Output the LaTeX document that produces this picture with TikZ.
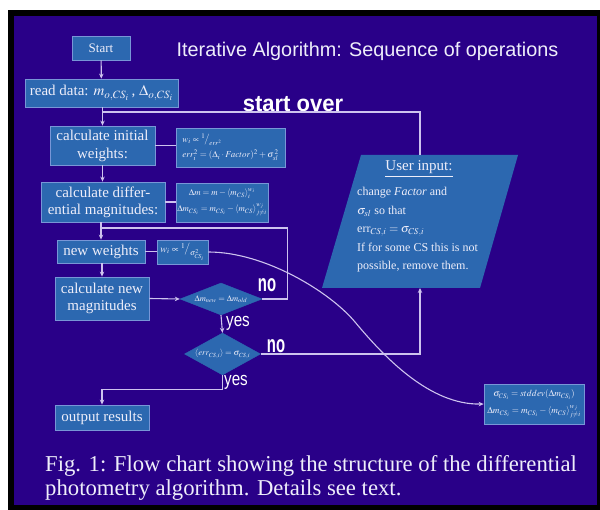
\documentclass[tikz,border=0pt]{standalone}
\usepackage{mathptmx}
\usepackage{fontspec}
\setmainfont{Liberation Serif}
\setsansfont{Liberation Sans}
\usetikzlibrary{shapes.geometric,arrows.meta}
\definecolor{bgblue}{RGB}{41,0,136}
\definecolor{boxfill}{RGB}{44,104,176}
\definecolor{boxline}{RGB}{120,150,215}
\definecolor{lineclr}{RGB}{205,195,238}
\definecolor{txt}{RGB}{238,238,250}
\begin{document}
\begin{tikzpicture}[x=1pt,y=-1pt,
  box/.style={draw=boxline, fill=boxfill, line width=0.8pt, text=txt, inner sep=1pt, align=center, font=\fontsize{15}{17}\selectfont},
  fbox/.style={box, font=\fontsize{9}{11}\selectfont},
  dia/.style={diamond, draw=boxfill, fill=boxfill, text=txt, inner sep=0pt, font=\fontsize{8.5}{10}\selectfont},
  conn/.style={draw=lineclr, line width=1.1pt},
  arr/.style={conn, -{Stealth[length=5pt,width=4.5pt]}},
  lbl/.style={text=white, font=\sffamily\fontsize{19}{20}\selectfont, inner sep=0pt},
  lblb/.style={text=white, font=\sffamily\bfseries\fontsize{22}{24}\selectfont, inner sep=0pt}
]
\useasboundingbox (0,0) rectangle (600,510);
\fill[white] (0,0) rectangle (600,510);
\fill[black] (8,10) rectangle (600,510);
\fill[bgblue] (14,16) rectangle (597,505);

% title
\node[text=txt, font=\sffamily\fontsize{19.8}{22}\selectfont, inner sep=0pt] (title) at (367.5,51) {Iterative Algorithm: Sequence of operations};

% boxes
\node[box, minimum width=58pt, minimum height=24pt, font=\fontsize{13}{15}\selectfont] (start) at (101,48) {Start};
\node[box, minimum width=153pt, minimum height=28pt] (read) at (101.5,93) {read data: $m_{o,CS_i}$\,, $\Delta_{o,CS_i}$};
\node[box, minimum width=105pt, minimum height=39pt, font=\fontsize{15}{18}\selectfont] (init) at (102.5,145.5) {calculate initial\\weights:};
\node[box, minimum width=124pt, minimum height=40pt, font=\fontsize{15}{17}\selectfont] (diff) at (103,202) {calculate differ-\\ential magnitudes:};
\node[box, minimum width=88pt, minimum height=23pt] (neww) at (101,251.5) {new weights};
\node[box, minimum width=94pt, minimum height=43pt, font=\fontsize{15}{16.5}\selectfont] (calcnew) at (102,298.5) {calculate new\\magnitudes};
\node[box, minimum width=94pt, minimum height=25pt] (out) at (102,417.5) {output results};

% formula boxes
\node[fbox, minimum width=109pt, minimum height=39pt, align=left, inner sep=2pt] (f1) at (230.5,147.5)
  {$w_i \propto {}^{1}\!\big/_{err^2}$\\[3pt] $err_i^2 = (\Delta_i \cdot Factor)^2 + \sigma_{sl}^{\,2}$};
\node[fbox, minimum width=92pt, minimum height=39pt, font=\fontsize{8.8}{11}\selectfont] (f2) at (222,202.5)
  {$\Delta m = m - \langle m_{CS}\rangle_i^{w_i}$\\[5pt] $\Delta m_{CS_i} = m_{CS_i} - \langle m_{CS}\rangle_{j\neq i}^{w_j}$};
\node[fbox, minimum width=51pt, minimum height=24pt, font=\fontsize{10}{11}\selectfont] (f3) at (182.5,252)
  {$w_i \propto {}^{1}\!\big/_{\sigma^2_{CS_i}}$};
\node[fbox, minimum width=100pt, minimum height=40pt, font=\fontsize{9.2}{11}\selectfont] (f4) at (534,404)
  {$\sigma_{CS_i} = stddev(\Delta m_{CS_i})$\\[5pt] $\Delta m_{CS_i} = m_{CS_i} - \langle m_{CS}\rangle_{j\neq i}^{w_j}$};

% diamonds
\node[dia, aspect=2.6, minimum width=82pt, minimum height=32pt] (d1) at (221,299) {$\Delta m_{new} = \Delta m_{old}$};
\node[dia, aspect=1.8, minimum width=76pt, minimum height=42pt] (d2) at (222.5,354) {$\langle err_{CS,i}\rangle = \sigma_{CS,i}$};

% user input parallelogram
\coordinate (utop) at (420,155);
\coordinate (ubot) at (420,288);
\fill[boxfill] (361,155) -- (518,155) -- (480,288) -- (322,288) -- cycle;
\node[text=txt, font=\fontsize{15}{17}\selectfont, inner sep=0pt] (uhead) at (419,169) {\underline{User input:}};
\node[text=txt, font=\fontsize{12}{18.5}\selectfont, align=left, anchor=west, inner sep=0pt] (utext) at (357,230)
  {change \textit{Factor} and\\ $\sigma_{sl}$ so that\\ err$_{CS,i} = \sigma_{CS,i}$\\ If for some CS this is not\\ possible, remove them.};

% labels
\node[lblb] (so) at (293,104) {\scalebox{1}[1.05]{start over}};
\node[lblb, font=\sffamily\bfseries\fontsize{24}{24}\selectfont] (no1) at (267,285) {\scalebox{0.62}[1]{no}};
\node[lblb, font=\sffamily\bfseries\fontsize{24}{24}\selectfont] (no2) at (276,346) {\scalebox{0.62}[1]{no}};
\node[lbl] (yes1) at (238,323) {\scalebox{0.8}[1]{yes}};
\node[lbl] (yes2) at (236,382) {\scalebox{0.8}[1]{yes}};

% caption
\node[text=txt, font=\fontsize{22.7}{24}\selectfont, align=left, anchor=north west, inner sep=0pt] (cap) at (45,455)
  {Fig. 1: Flow chart showing the structure of the differential\\ photometry algorithm. Details see text.};

% connectors
\draw[arr] (start) -- (read);
\draw[arr] (init.north |- read.south) -- (init.north);
\coordinate (jso) at (init.north |- 0,112);
\draw[conn] (utop) |- (jso);
\draw[conn] (init.east) -- (init.east -| f1.west);
\draw[arr] (init.south) -- (init.south |- diff.north);
\draw[conn] (diff.east) -- (diff.east -| f2.west);
\draw[arr] (neww.north |- diff.south) -- (neww.north);
\coordinate (j1) at (neww.north |- 0,228);
\draw[conn] (d1.east) -- ++(25,0) |- (j1);
\draw[conn] (neww.east) -- (neww.east -| f3.west);
\draw[arr] (f3.east) .. controls (265,252) and (330,292) .. (355,322) .. controls (385,358) and (430,405) .. (f4.west);
\draw[arr] (calcnew.north |- neww.south) -- (calcnew.north);
\draw[arr] (calcnew.east) -- (d1.west);
\draw[arr] (d1.south) -- (d2.north);
\draw[arr] (d2.east) -| (ubot);
\draw[arr] (d2.south) -- ++(0,14) -| (out.north);
\end{tikzpicture}
\end{document}
